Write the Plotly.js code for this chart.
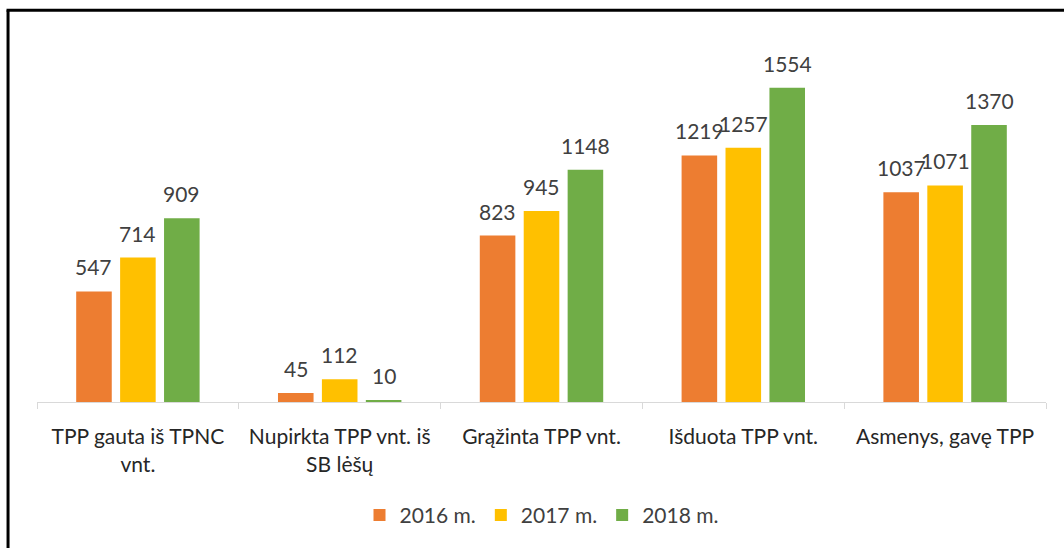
<!DOCTYPE html>
<html>
<head>
<meta charset="utf-8">
<script src="https://cdn.plot.ly/plotly-3.0.1.min.js"></script>
<style>html,body{margin:0;padding:0;background:#fff;}#chart{width:1064px;height:548px;}</style>
</head>
<body>
<div id="chart"></div>
<script>
const categories = ["TPP gauta iš TPNC<br>vnt.", "Nupirkta TPP vnt. iš<br>SB lėšų", "Grąžinta TPP vnt.", "Išduota TPP vnt.", "Asmenys, gavę TPP"];
const seriesNames = ["2016 m.", "2017 m.", "2018 m."];
const values2016 = [547, 45, 823, 1219, 1037];
const values2017 = [714, 112, 945, 1257, 1071];
const values2018 = [909, 10, 1148, 1554, 1370];
const colors = ["#ED7D31", "#FFC000", "#70AD47"];

const allValues = [values2016, values2017, values2018];
const FONT = "Lato, 'Open Sans', sans-serif";
const bargap = 0.347;
const slot = (1 - bargap) / 3;

const traces = allValues.map((vals, j) => ({
  type: "bar",
  name: seriesNames[j],
  x: categories,
  y: vals,
  marker: {color: colors[j]},
  hoverinfo: "none"
}));

const annotations = [];
allValues.forEach((vals, j) => {
  vals.forEach((v, i) => {
    annotations.push({
      xref: "x", yref: "y",
      x: i + (j - 1) * slot,
      y: v,
      text: String(v),
      showarrow: false,
      xanchor: "center",
      yanchor: "bottom",
      yshift: 10,
      font: {family: FONT, size: 21, color: "#404040"}
    });
  });
});

const layout = {
  width: 1064,
  height: 548,
  margin: {l: 37, r: 18, t: 40, b: 144},
  paper_bgcolor: "#ffffff",
  plot_bgcolor: "#ffffff",
  barmode: "group",
  bargap: bargap,
  bargroupgap: 0.19,
  font: {family: FONT, size: 21, color: "#404040"},
  showlegend: true,
  legend: {
    orientation: "h",
    x: 0.5, xanchor: "center",
    y: -0.313, yanchor: "middle",
    font: {family: FONT, size: 21, color: "#404040"},
    itemwidth: 30
  },
  xaxis: {
    type: "category",
    showline: true,
    linecolor: "#D9D9D9",
    linewidth: 1,
    ticks: "outside",
    tickson: "boundaries",
    ticklen: 6,
    tickcolor: "#D9D9D9",
    ticklabelstandoff: 16,
    showgrid: false,
    tickfont: {family: FONT, size: 21, color: "#262626"},
    fixedrange: true
  },
  yaxis: {
    range: [0, 1790],
    visible: false,
    showgrid: false,
    zeroline: false,
    fixedrange: true
  },
  annotations: annotations,
  shapes: [
    {type: "line", xref: "paper", yref: "paper", x0: -0.0287, x1: -0.0287, y0: 1.0824, y1: -0.5, line: {color: "#000000", width: 3}},
    {type: "line", xref: "paper", yref: "paper", x0: -0.0302, x1: 1.1, y0: 1.0824, y1: 1.0824, line: {color: "#000000", width: 3}}
  ]
};

Plotly.newPlot("chart", traces, layout, {displayModeBar: false, staticPlot: true});
</script>
</body>
</html>
